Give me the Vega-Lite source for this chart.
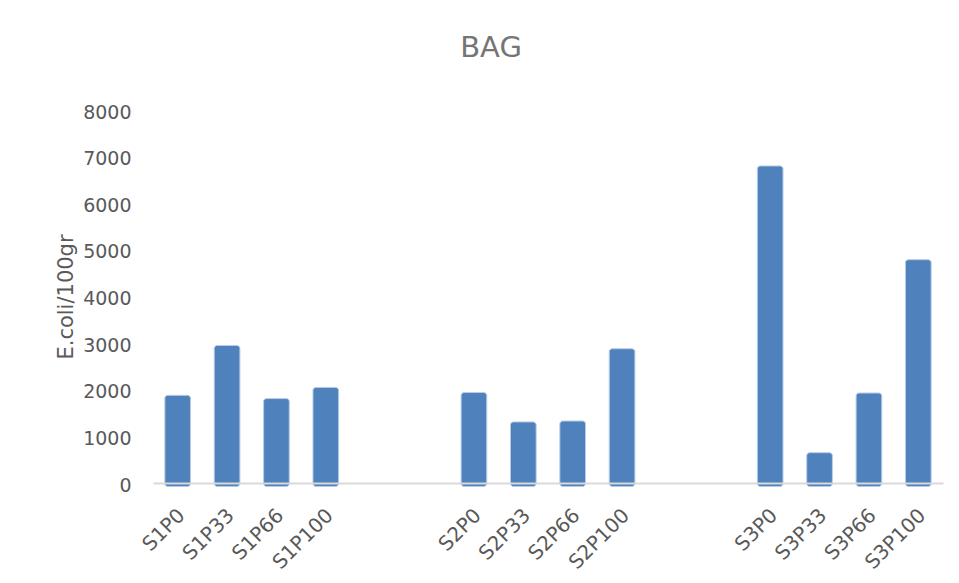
{
  "$schema": "https://vega.github.io/schema/vega-lite/v6.json",
  "autosize": "none",
  "width": 790,
  "height": 373,
  "padding": {"left": 153, "top": 110, "right": 16, "bottom": 100},
  "background": "white",
  "config": {
    "view": {"stroke": null},
    "font": "DejaVu Sans"
  },
  "title": {
    "text": "BAG",
    "fontSize": 29,
    "fontWeight": "normal",
    "color": "#757575",
    "font": "DejaVu Sans",
    "anchor": "middle",
    "frame": "group",
    "dx": -57,
    "offset": 40
  },
  "data": {
    "values": [
      {"sample": "S1P0", "ecoli": 1880},
      {"sample": "S1P33", "ecoli": 2950},
      {"sample": "S1P66", "ecoli": 1810},
      {"sample": "S1P100", "ecoli": 2050},
      {"sample": "S2P0", "ecoli": 1940},
      {"sample": "S2P33", "ecoli": 1310},
      {"sample": "S2P66", "ecoli": 1330},
      {"sample": "S2P100", "ecoli": 2880},
      {"sample": "S3P0", "ecoli": 6800},
      {"sample": "S3P33", "ecoli": 650},
      {"sample": "S3P66", "ecoli": 1930},
      {"sample": "S3P100", "ecoli": 4790}
    ]
  },
  "mark": {
    "type": "bar",
    "color": "#4f81bd",
    "stroke": "#b9cde5",
    "strokeWidth": 1,
    "cornerRadius": 3
  },
  "encoding": {
    "x": {
      "field": "sample",
      "type": "nominal",
      "sort": null,
      "scale": {
        "domain": ["S1P0", "S1P33", "S1P66", "S1P100", "_1", "_2", "S2P0", "S2P33", "S2P66", "S2P100", "_3", "_4", "S3P0", "S3P33", "S3P66", "S3P100"],
        "paddingInner": 0.48,
        "paddingOuter": 0.24
      },
      "axis": {
        "title": null,
        "labelAngle": -45,
        "labelExpr": "slice(datum.value,0,1) == '_' ? '' : datum.value",
        "labelFontSize": 20,
        "labelFont": "DejaVu Sans",
        "labelColor": "#595959",
        "labelPadding": 22,
        "labelOffset": -3,
        "ticks": false,
        "domainColor": "#d9d9d9",
        "domainWidth": 2,
        "zindex": 1
      }
    },
    "y": {
      "field": "ecoli",
      "type": "quantitative",
      "scale": {"domain": [0, 8000], "nice": false},
      "axis": {
        "title": "E.coli/100gr",
        "titleFontSize": 21,
        "titleFont": "DejaVu Sans",
        "titleFontWeight": "normal",
        "titleColor": "#595959",
        "titlePadding": 6,
        "format": "d",
        "values": [0, 1000, 2000, 3000, 4000, 5000, 6000, 7000, 8000],
        "labelFontSize": 19,
        "labelFont": "DejaVu Sans",
        "labelColor": "#595959",
        "labelPadding": 22,
        "labelOffset": 2,
        "ticks": false,
        "domain": false,
        "grid": false
      }
    },
    "y2": {"datum": -75}
  }
}
